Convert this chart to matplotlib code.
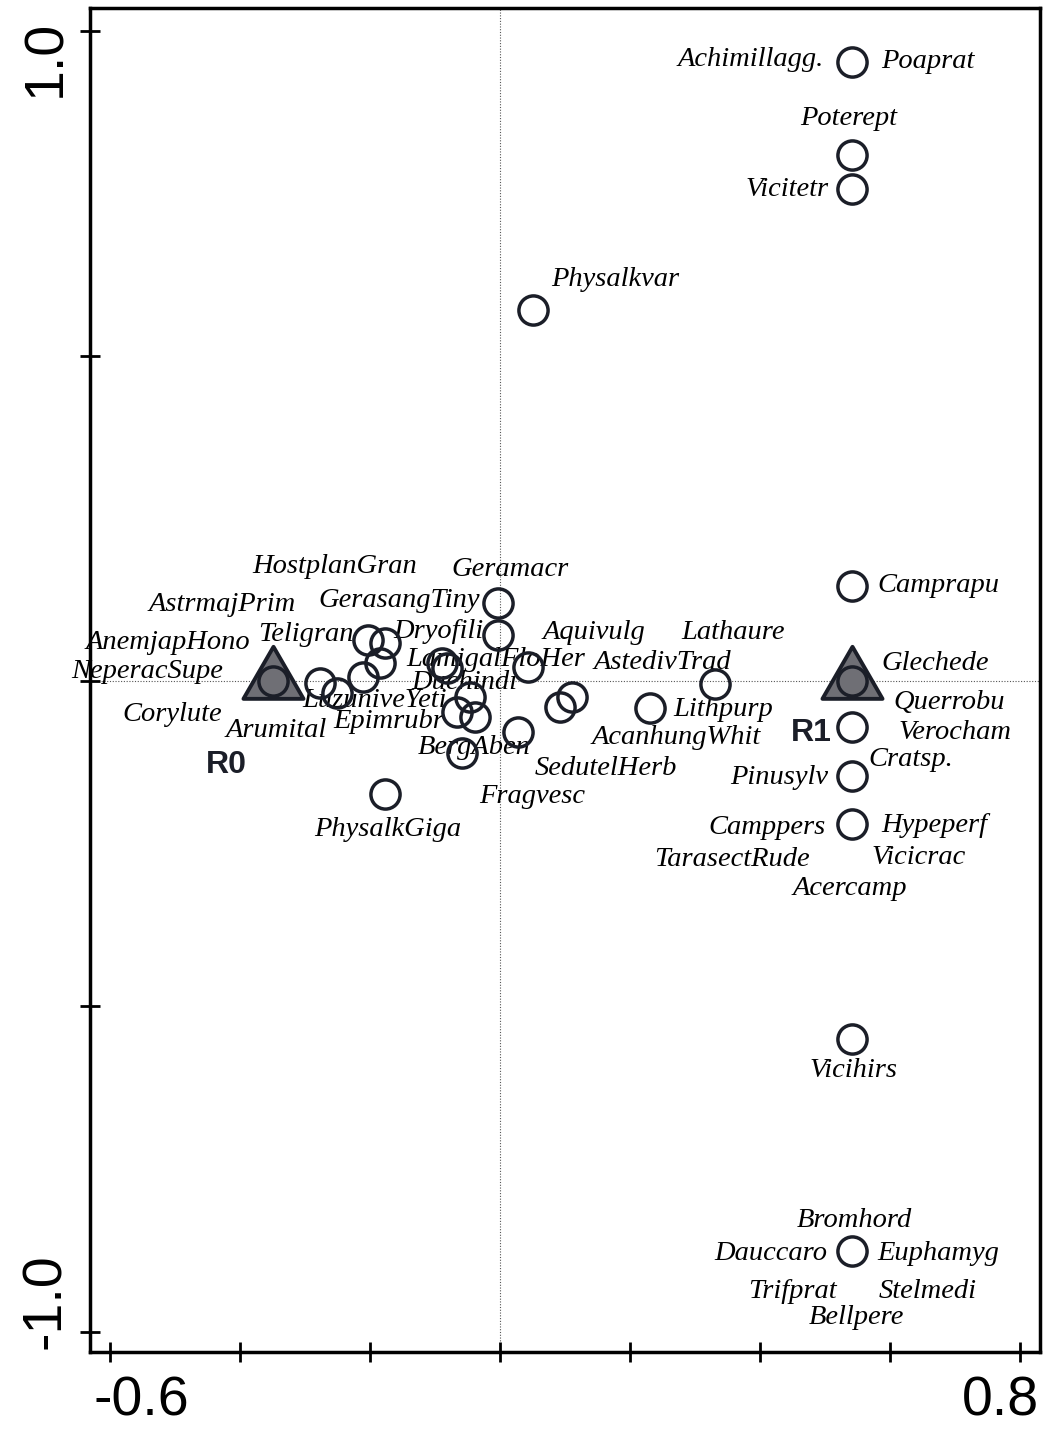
import matplotlib
matplotlib.use("Agg")
import matplotlib.pyplot as plt
import matplotlib.transforms as mtrans
import numpy as np
from matplotlib.path import Path

# species scores (axis 1, axis 2)
species = ["Achimillagg.", "Poaprat", "Poterept", "Vicitetr", "Physalkvar", "Camprapu",
           "Glechede", "Querrobu", "Verocham", "Pinusylv", "Cratsp.",
           "Camppers", "Hypeperf", "TarasectRude", "Vicicrac", "Acercamp", "Vicihirs",
           "Bromhord", "Dauccaro", "Euphamyg", "Trifprat", "Stelmedi", "Bellpere",
           "NeperacSupe", "AnemjapHono", "Corylute", "Arumital", "LuzuniveYeti",
           "AstrmajPrim", "HostplanGran", "Teligran", "LamigalFloHer", "Dryofili",
           "Geramacr", "GerasangTiny", "Aquivulg", "Duchindi", "Epimrubr", "BergAben",
           "Fragvesc", "SedutelHerb", "AcanhungWhit", "AstedivTrad", "Lithpurp",
           "Lathaure", "PhysalkGiga"]
sp_x = [0.542, 0.542, 0.542, 0.542, 0.051, 0.542,
        0.542, 0.542, 0.542, 0.542, 0.542,
        0.542, 0.542, 0.542, 0.542, 0.542, 0.542,
        0.542, 0.542, 0.542, 0.542, 0.542, 0.542,
        -0.349, -0.349, -0.277, -0.251, -0.211,
        -0.203, -0.177, -0.185, -0.089, -0.082,
        -0.003, -0.003, 0.043, -0.046, -0.066, -0.038,
        0.028, -0.058, 0.092, 0.111, 0.231,
        0.331, -0.177]
sp_y = [0.952, 0.952, 0.809, 0.757, 0.570, 0.147,
        0.0, -0.070, -0.070, -0.145, -0.145,
        -0.220, -0.220, -0.220, -0.220, -0.220, -0.550,
        -0.876, -0.876, -0.876, -0.876, -0.876, -0.876,
        0.0, 0.0, -0.002, -0.018, 0.007,
        0.064, 0.059, 0.028, 0.028, 0.021,
        0.121, 0.071, 0.022, -0.024, -0.048, -0.055,
        -0.078, -0.110, -0.039, -0.025, -0.041,
        -0.005, -0.174]

# label offsets from the point, in pixels
lab_dx = [-101, 76, -3, -65, 82, 86,
          83, 97, 103, -73, 59,
          -85, 82, -120, 67, -2, 1,
          2, -81, 86, -60, 76, 4,
          -126, -105, -148, -61, 12,
          -146, -50, -74, 54, -8,
          12, -99, 66, -6, -68, -1,
          14, 144, 116, 90, 73,
          18, 3]
lab_dy = [2, 0, 37, -1, 31, 0,
          18, 24, -6, -2, 16,
          -3, -1, -35, -33, -64, -32,
          31, -2, -2, -40, -40, -66,
          10, 39, -32, -38, -24,
          35, 76, 29, 4, 36,
          33, 35, 34, 14, -9, -31,
          -65, -16, -31, 35, -2,
          52, -35]

# environmental (nominal) variables
env_names = ["R0", "R1"]
env_x = [-0.349, 0.542]
env_y = [0.0, 0.0]
env_dx = [-47, -41]
env_dy = [-84, -52]

dark = "#1b1e28"
grey = "#6f6f75"

fig = plt.figure(figsize=(10.43, 14.29), dpi=100)
ax = fig.add_axes([0.0863, 0.054, 0.9107, 0.9404])

ax.axvline(0, color="#555555", lw=0.8, ls=(0, (1, 1.5)), zorder=0)
ax.axhline(0, color="#555555", lw=0.8, ls=(0, (1, 1.5)), zorder=0)

for name, x, y, dx, dy in zip(species, sp_x, sp_y, lab_dx, lab_dy):
    ax.annotate(name, (x, y), xytext=(dx, dy), textcoords="offset pixels",
                ha="center", va="center", fontsize=20.5, fontstyle="italic",
                family="Liberation Serif", color="black", zorder=2)

pts = sorted(set(zip(sp_x, sp_y)))
px = [p[0] for p in pts]
py = [p[1] for p in pts]
ax.plot(px, py, "o", ms=21, mfc="none", mec=dark, mew=2.5, zorder=3)

tri = Path([(-1, -0.577), (1, -0.577), (0, 1.155), (-1, -0.577)],
           [Path.MOVETO, Path.LINETO, Path.LINETO, Path.CLOSEPOLY])
ax.plot(env_x, env_y, ls="none", marker=tri, ms=50, mfc=grey, mec=dark, mew=2.8, zorder=4)
ax.plot(env_x, env_y, "o", ms=21, mfc=grey, mec=dark, mew=2.5, zorder=5)
for name, x, y, dx, dy in zip(env_names, env_x, env_y, env_dx, env_dy):
    ax.annotate(name, (x, y), xytext=(dx, dy), textcoords="offset pixels",
                ha="center", va="center", fontsize=23, fontweight="bold",
                family="Liberation Sans", color=dark, zorder=6)

ax.set_xlim(-0.631, 0.831)
ax.set_ylim(-1.031, 1.035)
ax.set_xticks(np.arange(-0.6, 0.81, 0.2))
ax.set_xticklabels(["-0.6", "", "", "", "", "", "", "0.8"])
ax.set_yticks([-1.0, -0.5, 0.0, 0.5, 1.0])
ax.set_yticklabels(["-1.0", "", "", "", "1.0"], rotation=90, va="center")
for lab in ax.get_xticklabels() + ax.get_yticklabels():
    lab.set_family("Liberation Sans")
    lab.set_fontsize(40)
ax.tick_params(direction="inout", length=14, width=2, color="black", pad=8)
ax.tick_params(axis="x", pad=10)
ax.tick_params(axis="y", pad=6)
for s in ax.spines.values():
    s.set_linewidth(2.5)

# end labels are pulled inwards, as in the original
shifts_x = {0: 31, 7: -19}
for i, lab in enumerate(ax.get_xticklabels()):
    if i in shifts_x:
        lab.set_transform(lab.get_transform() +
                          mtrans.ScaledTranslation(shifts_x[i] / 100, 0, fig.dpi_scale_trans))
shifts_y = {0: 30, 4: -28}
for i, lab in enumerate(ax.get_yticklabels()):
    if i in shifts_y:
        lab.set_transform(lab.get_transform() +
                          mtrans.ScaledTranslation(0, shifts_y[i] / 100, fig.dpi_scale_trans))

fig.savefig("out.png", dpi=100)
